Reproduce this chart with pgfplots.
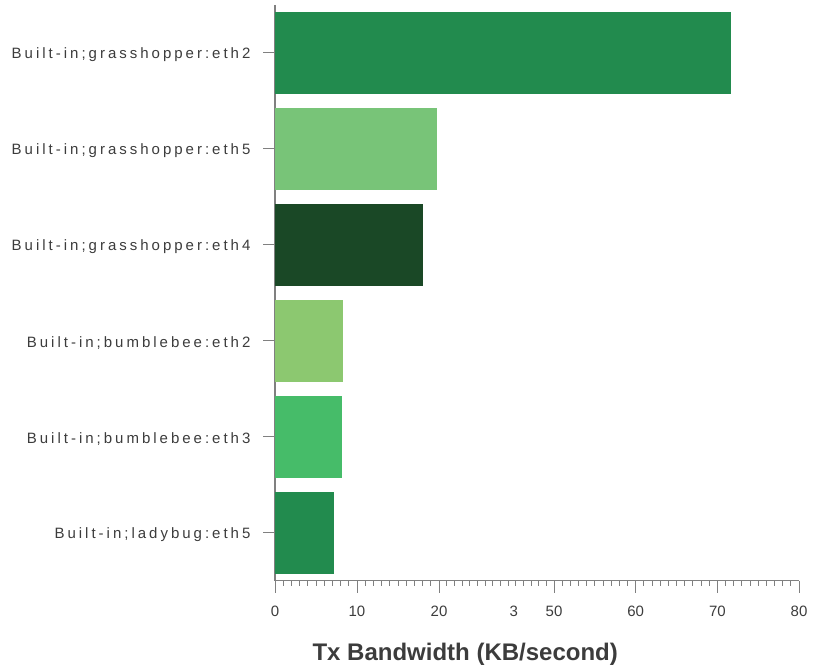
\documentclass[border=0pt]{standalone}
\usepackage{pgfplots}
\pgfplotsset{compat=1.18}
\usepackage{fontspec}
\setmainfont{Liberation Sans}
\newfontfamily\labfont[LetterSpace=20]{Liberation Sans}
\definecolor{gA}{RGB}{34,139,78}
\definecolor{gB}{RGB}{120,196,120}
\definecolor{gC}{RGB}{26,72,38}
\definecolor{gD}{RGB}{140,200,112}
\definecolor{gE}{RGB}{70,188,105}
\definecolor{axgray}{RGB}{128,128,128}
\definecolor{txtgray}{RGB}{60,60,60}
\begin{document}
\begin{tikzpicture}
\path[use as bounding box] (0,0) rectangle (821pt,665pt);
\begin{axis}[
  at={(275pt,84.3pt)}, anchor=south west,
  scale only axis, width=524pt, height=575.8pt,
  xbar, bar shift=0pt, bar width=0.85,
  y dir=reverse,
  xmin=0, xmax=80, ymin=-0.5, ymax=5.5,
  x coord trafo/.code={\pgfmathparse{(#1<=20)*8.2*#1 + and(#1>20,#1<=50)*(164+3.8333*(#1-20)) + (#1>50)*(279+8.1667*(#1-50))}},
  axis x line*=bottom, axis y line*=left,
  axis line style={axgray, line width=1.4pt},
  xtick={0,10,20,50,60,70,80},
  xticklabels={0,10,20,50,60,70,80},
  extra x ticks={39.5}, extra x tick labels={3},
  extra x tick style={major tick style={draw=none}},
  minor xtick={0,1,...,20,22,24,...,50,51,52,...,80},
  tick align=outside,
  major tick length=12pt, minor tick length=5pt,
  every tick/.style={axgray, line width=1pt},
  minor tick style={axgray, line width=1pt},
  ytick={0,1,2,3,4,5},
  yticklabels={Built-in;grasshopper:eth2,Built-in;grasshopper:eth5,Built-in;grasshopper:eth4,Built-in;bumblebee:eth2,Built-in;bumblebee:eth3,Built-in;ladybug:eth5},
  yticklabel style={font=\labfont\fontsize{15pt}{17pt}\selectfont, text=txtgray, xshift=-9pt, yshift=-2pt},
  xticklabel style={font=\fontsize{15pt}{17pt}\selectfont, text=txtgray, yshift=-10pt},
  /pgf/number format/assume math mode=true,
  xlabel={Tx Bandwidth (KB/second)},
  xlabel style={at={(axis description cs:0.363,0)}, anchor=center, yshift=-74pt, font=\bfseries\fontsize{24pt}{28pt}\selectfont, text=txtgray},
]
\addplot[fill=gA, draw=none] coordinates {(71.7,0)};
\addplot[fill=gB, draw=none] coordinates {(19.8,1)};
\addplot[fill=gC, draw=none] coordinates {(18.05,2)};
\addplot[fill=gD, draw=none] coordinates {(8.3,3)};
\addplot[fill=gE, draw=none] coordinates {(8.2,4)};
\addplot[fill=gA, draw=none] coordinates {(7.2,5)};
\end{axis}
\end{tikzpicture}
\end{document}
